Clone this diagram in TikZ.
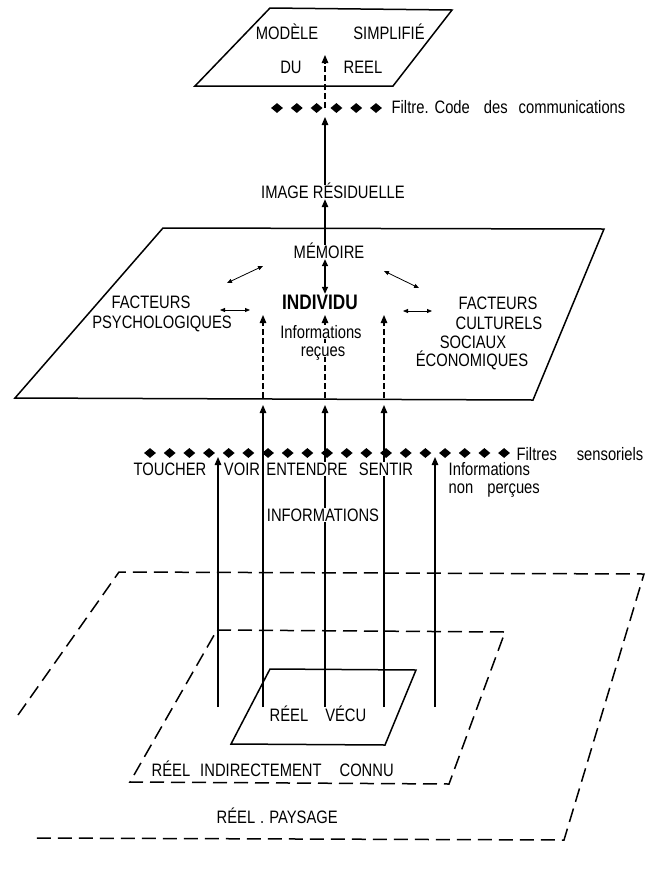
\documentclass[tikz,border=0pt]{standalone}
\usepackage{fontspec}
\setmainfont{Liberation Sans}[FakeStretch=0.82]
\usepackage{tikz}
\usetikzlibrary{arrows.meta,shapes.geometric}
\tikzset{
  plane/.style={line width=1.5pt,line join=miter},
  planedash/.style={line width=1.5pt,dash pattern=on 14pt off 7pt},
  lab/.style={font=\fontsize{18}{20}\selectfont,inner sep=0.5pt,text height=13pt,text depth=0pt},
  labw/.style={lab,fill=white},
  indiv/.style={font=\fontsize{21}{23}\selectfont\bfseries,inner sep=0.5pt,text height=15pt,text depth=0pt},
  filt/.style={diamond,fill=black,inner sep=0pt,minimum width=12pt,minimum height=10pt},
  sarr/.style={-{Triangle[length=8pt,width=6.5pt]},line width=1.2pt},
  darr/.style={-{Triangle[length=8pt,width=6.5pt]},line width=1.2pt,dash pattern=on 6pt off 3pt},
  barr/.style={{Triangle[length=5pt,width=4pt]}-{Triangle[length=5pt,width=4pt]},line width=0.8pt},
  bigbarr/.style={{Triangle[length=7pt,width=6pt]}-{Triangle[length=7pt,width=6pt]},line width=1.5pt}
}
\begin{document}
\begin{tikzpicture}[x=1pt,y=-1pt]
  \useasboundingbox (0,0) rectangle (668,871);
  % modele simplifie
  \draw[plane] (270,8) -- (452,10) -- (393,86) -- (195,86) -- cycle;
  \node[lab] (modele) at (287,33) {MODÈLE};
  \node[lab] (simpl) at (389,33) {SIMPLIFIÉ};
  \node[lab] (du) at (291,67) {DU};
  \node[lab] (reel) at (363,67) {REEL};
  % filtre code
  \foreach \i in {0,...,5} \node[filt] (u\i) at ({277+19.8*\i},108) {};
  \node[lab,anchor=west] (code) at (391,107) {Filtre.\hspace{6pt}Code\hspace{14pt}des\hspace{11pt}communications};
  \coordinate (uf) at (325,108);
  \coordinate (modin) at (325,55);
  \coordinate (ufb) at (325,117);
  \node[lab] (image) at (333,192) {IMAGE RÉSIDUELLE};
  \draw[darr] (uf) -- (modin);
  \draw[sarr] (image.north -| uf) -- (ufb);
  % individu
  \draw[plane] (163,228) -- (604,229) -- (533,400) -- (15,398) -- cycle;
  \node[lab] (memoire) at (329,252) {MÉMOIRE};
  \node[indiv] (individu) at (320,302) {INDIVIDU};
  \draw[sarr] (memoire.north -| uf) -- (image.south -| uf);
  \draw[bigbarr] (memoire.south -| uf) -- (individu.north -| uf);
  \node[lab] (fpsy) at (151,302) {FACTEURS};
  \node[lab] (psy) at (162,322) {PSYCHOLOGIQUES};
  \node[lab] (fcult) at (498,303) {FACTEURS};
  \node[lab] (cult) at (499,323) {CULTURELS};
  \node[lab] (soc) at (473,342) {SOCIAUX};
  \node[lab] (eco) at (472,360) {ÉCONOMIQUES};
  \coordinate (dl1) at (227,283);
  \coordinate (dl2) at (263,266);
  \coordinate (dr1) at (384,271);
  \coordinate (dr2) at (419,288);
  \coordinate (hl1) at (220,310);
  \coordinate (hl2) at (250,310);
  \coordinate (hr1) at (403,311);
  \coordinate (hr2) at (432,311);
  \draw[barr] (dl1) -- (dl2);
  \draw[barr] (dr1) -- (dr2);
  \draw[barr] (hl1) -- (hl2);
  \draw[barr] (hr1) -- (hr2);
  % columns of information
  \foreach \x/\n in {263/a,325/b,384/c} {
    \coordinate (foot\n) at (\x,707);
    \coordinate (edge\n) at (\x,405);
    \coordinate (base\n) at (\x,398);
    \coordinate (tip\n) at (\x,315);
    \draw[sarr] (foot\n) -- (edge\n);
    \draw[darr] (base\n) -- (tip\n);
  }
  \coordinate (footl) at (218,707);
  \coordinate (tipl) at (218,457);
  \coordinate (footr) at (435,707);
  \coordinate (tipr) at (435,457);
  \draw[sarr] (footl) -- (tipl);
  \draw[sarr] (footr) -- (tipr);
  \node[labw] (info) at (321,332) {Informations};
  \node[labw] (recues) at (323,350) {reçues};
  % filtres sensoriels
  \foreach \i in {0,...,18} \node[filt] (s\i) at ({150+19.67*\i},453) {};
  \node[lab,anchor=west] (sens) at (516,454) {Filtres\hspace{20pt}sensoriels};
  \node[lab] (toucher) at (170,469) {TOUCHER};
  \node[lab] (voir) at (242,469) {VOIR};
  \node[labw] (entendre) at (307,469) {ENTENDRE};
  \node[labw] (sentir) at (386,469) {SENTIR};
  \node[lab,anchor=west] (nonp1) at (448,469) {Informations};
  \node[lab,anchor=west] (nonp2) at (448,487) {non\hspace{14pt}perçues};
  \node[labw] (infos) at (323,515) {INFORMATIONS};
  % reel
  \draw[planedash] (18,715) -- (119,572) -- (644,574) -- (564,840) -- (32,838);
  \draw[planedash] (217,630) -- (505,632) -- (449,784) -- (130,782) -- cycle;
  \draw[plane] (270,669) -- (416,670) -- (385,745) -- (231,744) -- cycle;
  \node[lab] (vecu) at (318,715) {RÉEL\hspace{17pt}VÉCU};
  \node[lab,anchor=west] (indir) at (151,770) {RÉEL\hspace{10pt}INDIRECTEMENT\hspace{18pt}CONNU};
  \node[lab,anchor=west] (pays) at (216,817) {RÉEL\hspace{5pt}.\hspace{5pt}PAYSAGE};
\end{tikzpicture}
\end{document}
